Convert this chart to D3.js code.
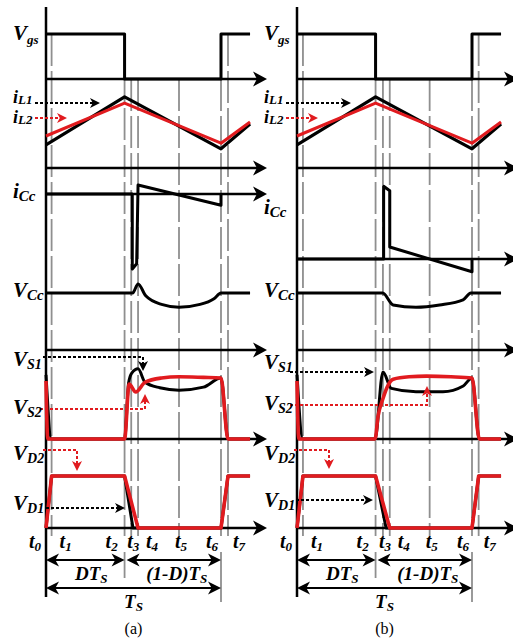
<!DOCTYPE html>
<html>
<head>
<meta charset="utf-8">
<script src="https://cdn.jsdelivr.net/npm/d3@7"></script>
<style>
body { margin: 0; background: #fff; }
svg { display: block; }
.lbl { font-family: "Liberation Serif", "DejaVu Serif", serif; font-weight: bold; font-style: italic; }
.cap { font-family: "Liberation Serif", "DejaVu Serif", serif; }
</style>
</head>
<body>
<svg id="chart" width="513" height="643"></svg>
<script>
// time instants t0..t7, one period Ts = 100
var tNames = ["0", "1", "2", "3", "4", "5", "6", "7"];
var tA = [0, 3.2, 44.9, 48.7, 52.6, 76, 100, 104];
var tB = [0, 3.4, 44.9, 49.1, 53.0, 75.8, 100, 103.8];
var duty = 44.9;

// gate signal
var vgs = [[0, 1], [44.9, 1], [44.9, 0], [100, 0], [100, 1], [116.6, 1]];
// inductor currents (same in both cases)
var iL1 = [[0, 0.29], [44.9, 0.89], [100, 0.24], [116.6, 0.55]];
var iL2 = [[0, 0.40], [44.9, 0.81], [100, 0.31], [116.6, 0.575]];
// clamp capacitor current
var iCcA = [[0, 0], [49.3, 0], [49.3, -1], [51.8, -0.93], [52.6, 0.12], [100, -0.15], [100, 0]];
var iCcB = [[0, 0], [49.5, 0], [49.5, 0.97], [53, 0.91], [53, 0.16], [100, -0.17], [100, 0]];
// clamp capacitor voltage
var vCcA = [[0, 1], [49.5, 1], [52.6, 1.16], [57, 0.95], [66, 0.8], [76, 0.75], [88, 0.8], [96, 0.9], [100, 1], [116.6, 1]];
var vCcB = [[0, 1], [49, 1], [54.9, 0.79], [68, 0.75], [81.5, 0.79], [94.9, 0.88], [99.4, 1], [116.6, 1]];
// switch voltages
var vS1A = [[0, 1.05], [3.2, 0], [44.9, 0], [47.2, 0.92], [49, 1.08], [52.6, 1.15], [56.6, 0.93], [65, 0.84], [76, 0.8], [90, 0.85], [100, 1.0], [104, 0], [116.6, 0]];
var vS2A = [[0, 0.95], [1, 0], [44.9, 0], [47.5, 0.9], [51.3, 0.77], [56.6, 0.93], [66, 1.0], [76, 1.02], [90, 1.01], [100, 1.0], [104, 0], [116.6, 0]];
var vS1B = [[0, 1.05], [3.4, 0], [44.6, 0], [49.1, 1.1], [53.9, 0.83], [68, 0.775], [83.4, 0.775], [95, 0.87], [100, 1.0], [104.2, 0], [116.6, 0]];
var vS2B = [[0, 0.95], [1, 0], [44.6, 0], [46.3, 0.37], [49.1, 0.66], [52, 0.88], [55, 0.98], [64, 1.02], [74, 1.03], [88, 1.02], [100, 1.0], [104.2, 0], [116.6, 0]];
// diode voltages
var vD1A = [[0, 0], [3.2, 1], [44.9, 1], [49.7, 0], [100, 0], [104, 1], [116.6, 1]];
var vD2A = [[0, 0], [3.2, 1], [44.9, 1], [52.6, 0], [100, 0], [104, 1], [116.6, 1]];
var vD1B = [[0, 0], [3.4, 1], [44.9, 1], [50.9, 0], [100, 0], [103.8, 1], [116.6, 1]];
var vD2B = [[0, 0], [3.4, 1], [44.9, 1], [53, 0], [100, 0], [103.8, 1], [116.6, 1]];

var red = "#e11b1f";
var svg = d3.select("#chart");

// px per unit for every row
var unit = { vgs: 45, iL: 80, iCc: 75, vCc: 57, vS: 61, vD: 52 };

var panels = [
  { x0: 46, cap: "(a)", ticks: tA, iCc: iCcA, vCc: vCcA, vS1: vS1A, vS2: vS2A, vD1: vD1A, vD2: vD2A,
    rows: { vgs: 79, iL: 168, iCc: 194, vCc: 350, vS: 439, vD: 528 },
    labY: { vgs: 40, iL1: 103, iL2: 123, iCc: 198, vCc: 297, vS1: 366, vS2: 414, vD2: 460, vD1: 510 },
    ptr: [
      { c: "#000", p: [[-11, 103], [54, 103]], dir: 0 },
      { c: red, p: [[-11, 118], [21, 118]], dir: 0 },
      { c: "#000", p: [[-3, 357], [97, 357], [97, 371]], dir: 90 },
      { c: red, p: [[-6, 409], [99, 409], [99, 394]], dir: -90 },
      { c: red, p: [[-3, 450], [31, 450], [31, 471]], dir: 90 },
      { c: "#000", p: [[0, 508], [79, 508]], dir: 0 }
    ] },
  { x0: 297, cap: "(b)", ticks: tB, iCc: iCcB, vCc: vCcB, vS1: vS1B, vS2: vS2B, vD1: vD1B, vD2: vD2B,
    rows: { vgs: 79, iL: 168, iCc: 259, vCc: 350, vS: 439, vD: 528 },
    labY: { vgs: 40, iL1: 103, iL2: 123, iCc: 214, vCc: 297, vS1: 369, vS2: 410, vD2: 460, vD1: 507 },
    ptr: [
      { c: "#000", p: [[-11, 103], [54, 103]], dir: 0 },
      { c: red, p: [[-11, 118], [21, 118]], dir: 0 },
      { c: "#000", p: [[-7, 372], [77, 372]], dir: 0 },
      { c: red, p: [[-7, 405], [130, 405], [130, 386]], dir: -90 },
      { c: red, p: [[-3, 450], [32, 450], [32, 469]], dir: 90 },
      { c: "#000", p: [[-1, 500], [76, 500]], dir: 0 }
    ] }
];

var tLabelDx = [-11, 14, -13, 2, 14, 2, -9, 11];

function arrowHead(g, x, y, dir, len, hw, color) {
  g.append("path")
    .attr("d", "M0,0L" + (-len) + "," + (-hw) + "L" + (-len * 0.72) + ",0L" + (-len) + "," + hw + "Z")
    .attr("transform", "translate(" + x + "," + y + ") rotate(" + dir + ")")
    .attr("fill", color);
}

function label(g, x, y, main, sub, size, subSize, shift) {
  var t = g.append("text").attr("class", "lbl").attr("x", x).attr("y", y).attr("font-size", size);
  t.append("tspan").text(main);
  if (sub) t.append("tspan").attr("font-size", subSize).attr("dy", shift).text(sub);
  return t;
}

panels.forEach(function (p) {
  var g = svg.append("g");
  var x = d3.scaleLinear().domain([0, 100]).range([p.x0, p.x0 + 175]);
  var y = {};
  Object.keys(p.rows).forEach(function (k) {
    y[k] = d3.scaleLinear().domain([0, 1]).range([p.rows[k], p.rows[k] - unit[k]]);
  });
  var tip = x(100) + 46;

  // gray dashed time lines
  p.ticks.forEach(function (t, i) {
    if (i === 0) return;
    var top = (t > duty && t <= 100) ? y.vgs(0) : y.vgs(1);
    g.append("line").attr("x1", x(t)).attr("x2", x(t)).attr("y1", top).attr("y2", 536)
      .attr("stroke", "#8f8f8f").attr("stroke-width", 1.8).attr("stroke-dasharray", "32,5");
  });
  [duty, 100].forEach(function (t, i) {
    g.append("line").attr("x1", x(t)).attr("x2", x(t)).attr("y1", 552).attr("y2", i ? 602 : 578)
      .attr("stroke", "#8f8f8f").attr("stroke-width", 1.8);
  });

  // axes
  g.append("line").attr("x1", p.x0).attr("x2", p.x0).attr("y1", 7).attr("y2", 597)
    .attr("stroke", "#000").attr("stroke-width", 2.5);
  Object.keys(p.rows).forEach(function (k) {
    var yy = p.rows[k];
    g.append("line").attr("x1", p.x0).attr("x2", tip - 8).attr("y1", yy).attr("y2", yy)
      .attr("stroke", "#000").attr("stroke-width", 2.5);
    arrowHead(g, tip, yy, 0, 14, 7.5, "#000");
  });

  function wave(data, sc, color, w, curve) {
    g.append("path").datum(data)
      .attr("d", d3.line().x(function (d) { return x(d[0]); }).y(function (d) { return sc(d[1]); }).curve(curve || d3.curveLinear))
      .attr("fill", "none").attr("stroke", color).attr("stroke-width", w)
      .attr("stroke-linejoin", "round");
  }
  var yIcc = d3.scaleLinear().domain([-1, 1]).range([p.rows.iCc + unit.iCc, p.rows.iCc - unit.iCc]);

  wave(vgs, y.vgs, "#000", 3);
  wave(iL1, y.iL, "#000", 3.2);
  wave(iL2, y.iL, red, 3);
  wave(p.iCc, yIcc, "#000", 3);
  wave(p.vCc, y.vCc, "#000", 3, d3.curveMonotoneX);
  wave(p.vS1, y.vS, "#000", 3, d3.curveMonotoneX);
  wave(p.vS2, y.vS, red, 3.6, d3.curveMonotoneX);
  wave(p.vD1, y.vD, "#000", 3);
  wave(p.vD2, y.vD, red, 3.6);

  // dotted pointers
  p.ptr.forEach(function (a) {
    var pts = a.p.map(function (q) { return [p.x0 + q[0], q[1]]; });
    var last = pts[pts.length - 1];
    var back = pts.slice();
    var dx = a.dir === 0 ? -6 : 0, dy = a.dir === 90 ? -6 : (a.dir === -90 ? 6 : 0);
    back[back.length - 1] = [last[0] + dx, last[1] + dy];
    g.append("path").datum(back).attr("d", d3.line())
      .attr("fill", "none").attr("stroke", a.c).attr("stroke-width", 2).attr("stroke-dasharray", "3,2");
    arrowHead(g, last[0], last[1], a.dir, 10, 5, a.c);
  });

  // row labels
  var lx = p.x0 - 33;
  label(g, lx, p.labY.vgs, "V", "gs", 21, 13, 4);
  label(g, lx, p.labY.iL1, "i", "L1", 18, 13, 1);
  label(g, lx, p.labY.iL2, "i", "L2", 18, 13, 1);
  label(g, lx, p.labY.iCc, "i", "Cc", 21, 15, 3);
  label(g, lx, p.labY.vCc, "V", "Cc", 21, 15, 3);
  label(g, lx, p.labY.vS1, "V", "S1", 21, 14, 3);
  label(g, lx, p.labY.vS2, "V", "S2", 21, 14, 3);
  label(g, lx, p.labY.vD2, "V", "D2", 21, 14, 3);
  label(g, lx, p.labY.vD1, "V", "D1", 21, 14, 3);

  // time labels
  p.ticks.forEach(function (t, i) {
    label(g, x(t) + tLabelDx[i] - 6, 548, "t", tNames[i], 20, 13, 3);
  });

  // period arrows
  function dbl(x1, x2, yy) {
    g.append("line").attr("x1", x1 + 8).attr("x2", x2 - 8).attr("y1", yy).attr("y2", yy)
      .attr("stroke", "#000").attr("stroke-width", 2);
    arrowHead(g, x1, yy, 180, 13, 6.5, "#000");
    arrowHead(g, x2, yy, 0, 13, 6.5, "#000");
  }
  dbl(x(0), x(duty), 560);
  dbl(x(duty) + 2, x(100), 560);
  dbl(x(0), x(100), 588);

  label(g, x(duty / 2) + 6, 580, "DT", "S", 19, 13, 3).attr("text-anchor", "middle");
  label(g, x((duty + 100) / 2) + 4, 580, "(1-D)T", "S", 19, 13, 3).attr("text-anchor", "middle");
  label(g, x(50), 608, "T", "S", 19, 13, 3).attr("text-anchor", "middle");
  g.append("text").attr("class", "cap").attr("x", x(50)).attr("y", 634)
    .attr("text-anchor", "middle").attr("font-size", 16).text(p.cap);
});
</script>
</body>
</html>
